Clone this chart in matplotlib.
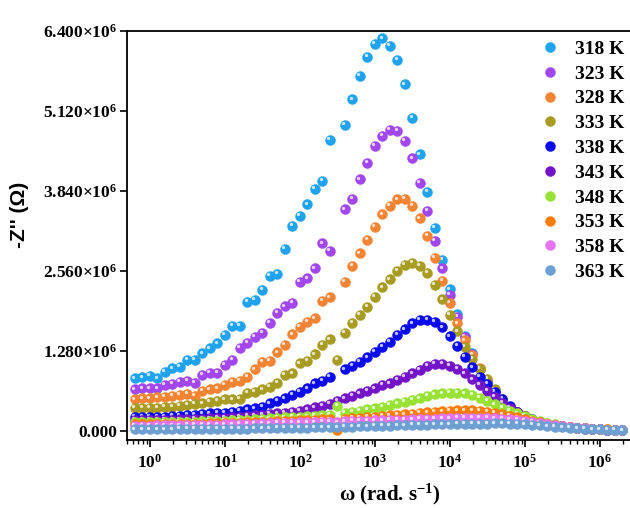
import numpy as np
import matplotlib
matplotlib.use('Agg')
from matplotlib import pyplot as plt
from matplotlib.transforms import offset_copy

# Data (Z'' values in units of 1e6 ohm), one point per 0.1 decade of f starting at 0.1 Hz
k_points = np.arange(66)
omega = 2 * np.pi * 10 ** (-1 + 0.1 * k_points)

temps = ['318 K', '323 K', '328 K', '333 K', '338 K', '343 K', '348 K', '353 K', '358 K', '363 K']
colors = ['#1fa3f0', '#a246ef', '#f38433', '#a79b22', '#0a0af0',
          '#7414c9', '#98e235', '#ff7c05', '#e474f3', '#6d9fd2']

nan = np.nan
z318 = [0.843, 0.859, 0.880, 0.843, 0.949, 1.003, 1.029, 1.136, 1.136, 1.243,
        1.323, 1.403, 1.536, 1.680, 1.680, 2.069, 2.096, 2.256, 2.480, 2.512,
        2.912, 3.280, 3.440, 3.627, 3.872, 4.005, 4.656, nan, 4.896, 5.307,
        5.685, 5.989, 6.192, 6.283, 6.165, 5.936, 5.547, 5.013, 4.427, 3.829,
        3.253, 2.736, 2.267, 1.867, 1.525, 1.243, 0.992, 0.800, 0.635, 0.500,
        0.385, 0.300, 0.235, 0.185, 0.148, 0.118, 0.095, 0.077, 0.063, 0.051,
        0.042, 0.035, 0.029, 0.024, 0.020, 0.017]
z323 = [0.667, 0.683, 0.683, 0.683, 0.736, 0.752, 0.789, 0.805, 0.773, 0.896,
        0.933, 0.933, 1.056, 1.136, 1.333, 1.413, 1.509, 1.573, 1.733, 1.893,
        1.999, 2.053, 2.389, 2.443, 2.603, 3.003, 2.880, nan, 3.547, 3.712,
        4.027, 4.293, 4.560, 4.720, 4.816, 4.805, 4.645, 4.363, 3.973, 3.520,
        3.045, 2.603, 2.176, 1.829, 1.509, 1.235, 1.000, 0.790, 0.630, 0.495,
        0.380, 0.297, 0.232, 0.183, 0.146, 0.117, 0.094, 0.076, 0.062, 0.050,
        0.041, 0.034, 0.028, 0.023, 0.019, 0.016]
z328 = [0.507, 0.523, 0.523, 0.539, 0.549, 0.560, 0.576, 0.592, 0.560, 0.645,
        0.667, 0.683, 0.736, 0.789, 0.800, 0.869, 0.987, 1.109, 1.125, 1.259,
        1.376, 1.547, 1.669, 1.749, 1.803, 2.085, 2.139, nan, 2.389, 2.640,
        2.843, 3.056, 3.269, 3.467, 3.605, 3.707, 3.712, 3.605, 3.403, 3.120,
        2.773, 2.405, 2.053, 1.723, 1.450, 1.216, 1.015, 0.820, 0.645, 0.505,
        0.388, 0.300, 0.234, 0.184, 0.147, 0.117, 0.094, 0.076, 0.062, 0.050,
        0.041, 0.034, 0.028, 0.023, 0.019, 0.016]
z333 = [0.373, 0.373, 0.373, 0.373, 0.389, 0.389, 0.400, 0.416, 0.432, 0.443,
        0.469, 0.485, 0.507, 0.507, 0.512, 0.613, 0.629, 0.667, 0.709, 0.773,
        0.896, 0.923, 1.083, 1.125, 1.227, 1.376, 1.467, 1.136, 1.573, 1.733,
        1.856, 1.989, 2.149, 2.299, 2.427, 2.565, 2.656, 2.693, 2.640, 2.533,
        2.336, 2.107, 1.856, 1.595, 1.352, 1.160, 1.000, 0.835, 0.665, 0.515,
        0.392, 0.302, 0.235, 0.184, 0.147, 0.117, 0.094, 0.076, 0.062, 0.050,
        0.041, 0.034, 0.028, 0.023, 0.019, 0.016]
z338 = [0.229, 0.229, 0.229, 0.229, 0.229, 0.240, 0.240, 0.256, 0.256, 0.272,
        0.283, 0.293, 0.293, 0.309, 0.320, 0.347, 0.363, 0.389, 0.443, 0.485,
        0.523, 0.576, 0.629, 0.683, 0.763, 0.805, 0.869, nan, 0.987, 1.040,
        1.109, 1.179, 1.269, 1.349, 1.429, 1.536, 1.627, 1.723, 1.776, 1.776,
        1.749, 1.660, 1.515, 1.362, 1.190, 1.019, 0.869, 0.752, 0.629, 0.515,
        0.395, 0.303, 0.236, 0.185, 0.147, 0.117, 0.094, 0.076, 0.062, 0.050,
        0.041, 0.034, 0.028, 0.023, 0.019, 0.016]
z343 = [0.176, 0.176, 0.176, 0.176, 0.180, 0.180, 0.187, 0.187, 0.192, 0.197,
        0.203, 0.208, 0.213, 0.219, 0.229, 0.240, 0.251, 0.261, 0.272, 0.283,
        0.296, 0.309, 0.325, 0.347, 0.379, 0.400, 0.432, 0.480, 0.523, 0.565,
        0.603, 0.645, 0.683, 0.736, 0.763, 0.816, 0.869, 0.923, 0.976, 1.045,
        1.072, 1.072, 1.045, 0.995, 0.923, 0.827, 0.736, 0.640, 0.549, 0.453,
        0.373, 0.300, 0.235, 0.184, 0.146, 0.116, 0.093, 0.075, 0.061, 0.049,
        0.040, 0.033, 0.027, 0.022, 0.018, 0.015]
z348 = [0.140, 0.140, 0.140, 0.140, 0.144, 0.144, 0.149, 0.149, 0.152, 0.155,
        0.160, 0.163, 0.168, 0.172, 0.178, 0.184, 0.190, 0.197, 0.204, 0.211,
        0.218, 0.224, 0.230, 0.237, 0.244, 0.250, 0.256, 0.400, 0.293, 0.309,
        0.325, 0.347, 0.363, 0.389, 0.416, 0.443, 0.469, 0.496, 0.523, 0.560,
        0.587, 0.603, 0.613, 0.613, 0.605, 0.580, 0.535, 0.485, 0.430, 0.373,
        0.325, 0.283, 0.240, 0.200, 0.163, 0.132, 0.106, 0.085, 0.068, 0.055,
        0.045, 0.037, 0.030, 0.025, 0.020, 0.017]
z353 = [0.110, 0.110, 0.110, 0.110, 0.112, 0.112, 0.115, 0.115, 0.118, 0.120,
        0.123, 0.125, 0.128, 0.131, 0.134, 0.138, 0.142, 0.146, 0.150, 0.155,
        0.160, 0.165, 0.170, 0.175, 0.180, 0.185, 0.190, 0.020, 0.200, 0.208,
        0.216, 0.224, 0.232, 0.240, 0.250, 0.260, 0.270, 0.280, 0.290, 0.300,
        0.310, 0.318, 0.325, 0.330, 0.332, 0.330, 0.322, 0.310, 0.292, 0.270,
        0.245, 0.218, 0.190, 0.163, 0.138, 0.115, 0.095, 0.078, 0.064, 0.052,
        0.043, 0.036, 0.030, 0.025, 0.021, 0.018]
z358 = [0.088, 0.088, 0.088, 0.090, 0.090, 0.092, 0.094, 0.096, 0.098, 0.100,
        0.102, 0.104, 0.107, 0.110, 0.113, 0.116, 0.119, 0.122, 0.125, 0.128,
        0.131, 0.134, 0.137, 0.140, 0.143, 0.146, 0.150, 0.140, 0.156, 0.160,
        0.164, 0.167, 0.170, 0.174, 0.177, 0.180, 0.184, 0.188, 0.192, 0.196,
        0.200, 0.204, 0.207, 0.210, 0.211, 0.212, 0.211, 0.208, 0.205, 0.198,
        0.188, 0.176, 0.162, 0.146, 0.128, 0.110, 0.093, 0.078, 0.064, 0.053,
        0.043, 0.035, 0.029, 0.024, 0.020, 0.017]
z363 = [0.030, 0.030, 0.030, 0.030, 0.031, 0.031, 0.032, 0.032, 0.033, 0.034,
        0.035, 0.036, 0.037, 0.038, 0.039, 0.040, 0.042, 0.044, 0.046, 0.048,
        0.050, 0.052, 0.054, 0.056, 0.058, 0.060, 0.063, 0.060, 0.069, 0.072,
        0.075, 0.078, 0.081, 0.084, 0.087, 0.090, 0.093, 0.096, 0.099, 0.102,
        0.105, 0.108, 0.111, 0.114, 0.116, 0.118, 0.119, 0.120, 0.122, 0.121,
        0.118, 0.113, 0.106, 0.098, 0.089, 0.079, 0.069, 0.060, 0.051, 0.043,
        0.036, 0.030, 0.025, 0.021, 0.018, 0.015]
series = [z318, z323, z328, z333, z338, z343, z348, z353, z358, z363]

ytick_vals = [0.0, 1.28e6, 2.56e6, 3.84e6, 5.12e6, 6.40e6]
ytick_labels = ['0.000', '1.280×10$^{6}$', '2.560×10$^{6}$', '3.840×10$^{6}$',
                '5.120×10$^{6}$', '6.400×10$^{6}$']
xtick_vals = [1e0, 1e1, 1e2, 1e3, 1e4, 1e5, 1e6]
xtick_labels = ['10$^{%d}$' % i for i in range(7)]

plt.rcParams['font.family'] = ['Liberation Serif', 'DejaVu Serif']
plt.rcParams['font.weight'] = 'bold'
plt.rcParams['mathtext.fontset'] = 'custom'
plt.rcParams['mathtext.rm'] = 'Liberation Serif:bold'
plt.rcParams['mathtext.it'] = 'Liberation Serif:bold:italic'
plt.rcParams['mathtext.bf'] = 'Liberation Serif:bold'

fig = plt.figure(figsize=(6.3, 5.08), dpi=100)
ax = fig.add_axes([127 / 630, 68 / 508, 503 / 630, 409 / 508])

# ball-like markers: base dot plus a small highlight shifted up-left
hl = offset_copy(ax.transData, fig=fig, x=-1.1, y=1.1, units='points')
handles = []
for z, c, t in zip(series, colors, temps):
    vals = np.array(z) * 1e6
    line, = ax.plot(omega, vals, 'o', ms=7.2, color=c, mec=c, mew=0.3, label=t)
    ax.plot(omega, vals, 'o', ms=2.4, color='white', mec='none', alpha=0.75, transform=hl)
    handles.append(line)

ax.set_xscale('log')
ax.set_xlim(10 ** -0.307, 10 ** 6.4)
ax.set_ylim(-0.144e6, 6.4e6)

ax.set_yticks(ytick_vals)
ax.set_yticklabels(ytick_labels)
ax.set_xticks(xtick_vals)
ax.set_xticklabels(xtick_labels)
ax.xaxis.set_minor_locator(matplotlib.ticker.LogLocator(base=10, subs=np.arange(2, 10), numticks=20))
ax.xaxis.set_minor_formatter(matplotlib.ticker.NullFormatter())

ax.tick_params(axis='both', which='major', direction='out', length=5, width=1.2,
               labelsize=12.5, colors='black')
ax.tick_params(axis='y', pad=2)
ax.tick_params(axis='x', pad=5)
ax.tick_params(axis='x', which='minor', direction='out', length=3, width=1.0)
ax.tick_params(top=False, right=False, which='both')

for side in ['left', 'bottom', 'top']:
    ax.spines[side].set_linewidth(1.3)
ax.spines['right'].set_visible(False)

ax.set_xlabel('ω (rad. s$^{-1}$)', fontsize=15, fontweight='bold')
ax.xaxis.set_label_coords(0.523, -0.103)
ax.set_ylabel("-Z'' (Ω)", fontsize=15, fontweight='bold', family='Liberation Sans')
ax.yaxis.set_label_coords(-0.195, 0.55)

ax.legend(handles=handles, loc='upper right', bbox_to_anchor=(1.009, 0.942),
          bbox_transform=fig.transFigure, frameon=False, fontsize=14,
          handlelength=1.0, handletextpad=0.8, labelspacing=0.37, borderaxespad=0.15)

fig.savefig('out.png', dpi=100)
